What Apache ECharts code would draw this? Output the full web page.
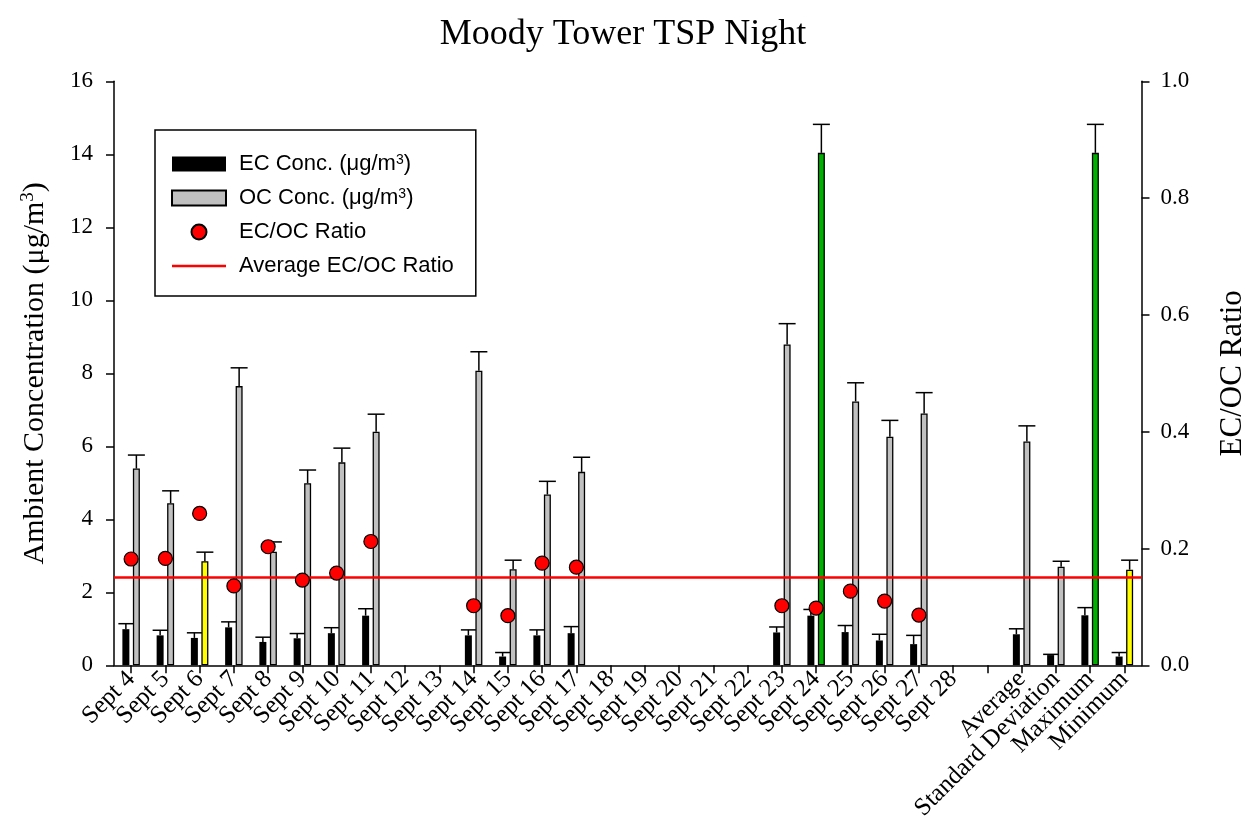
<!DOCTYPE html>
<html>
<head>
<meta charset="utf-8">
<script src="https://cdn.jsdelivr.net/npm/echarts@6/dist/echarts.min.js"></script>
<style>
html,body{margin:0;padding:0;background:#fff;}
#chart{width:1246px;height:832px;}
</style>
</head>
<body>
<div id="chart"></div>
<script>
// ---- data ----
const categories = ['Sept 4','Sept 5','Sept 6','Sept 7','Sept 8','Sept 9','Sept 10','Sept 11','Sept 12','Sept 13',
  'Sept 14','Sept 15','Sept 16','Sept 17','Sept 18','Sept 19','Sept 20','Sept 21','Sept 22','Sept 23',
  'Sept 24','Sept 25','Sept 26','Sept 27','Sept 28','','Average','Standard Deviation','Maximum','Minimum'];
const ecConc = [0.99,0.82,0.75,1.04,0.64,0.74,0.88,1.36,null,null,
  0.82,0.24,0.82,0.88,null,null,null,null,null,0.90,
  1.36,0.91,0.68,0.58,null,null,0.85,0.28,1.37,0.24];
const ecErr = [0.15,0.14,0.14,0.15,0.13,0.13,0.15,0.19,null,null,
  0.15,0.11,0.15,0.18,null,null,null,null,null,0.15,
  0.17,0.18,0.17,0.24,null,null,0.15,0.02,0.21,0.11];
const ocConc = [5.39,4.44,2.85,7.65,3.11,4.99,5.56,6.40,null,null,
  8.07,2.63,4.68,5.30,null,null,null,null,null,8.79,
  14.04,7.23,6.26,6.90,null,null,6.13,2.70,14.04,2.62];
const ocErr = [0.37,0.34,0.25,0.50,0.27,0.36,0.39,0.48,null,null,
  0.52,0.25,0.36,0.40,null,null,null,null,null,0.57,
  0.78,0.51,0.45,0.57,null,null,0.43,0.15,0.78,0.26];
const ecocRatio = [0.182,0.183,0.260,0.136,0.203,0.146,0.158,0.212,null,null,
  0.102,0.085,0.175,0.168,null,null,null,null,null,0.102,
  0.098,0.127,0.110,0.086,null,null,null,null,null,null];
const avgRatio = 0.147;

// ---- styles ----
const highlight = {'Sept 6':'#ffff00','Minimum':'#ffff00','Sept 24':'#00b000','Maximum':'#00b000'};
const BAR_W = 7, BAR_GAP = 0.5;
const BAR_OFF = BAR_W * (1 + BAR_GAP) / 2;
const SERIF = 'Liberation Serif';
const SANS = 'Liberation Sans';

const legendLabels = {
  'EC': 'EC Conc. (\u03bcg/m{sup|3})',
  'OC': 'OC Conc. (\u03bcg/m{sup|3})',
  'Ratio': 'EC/OC Ratio',
  'Avg': 'Average EC/OC Ratio'
};

function errData(vals, errs){
  return vals.map((v,i)=> v==null ? [i, null, null] : [i, v, errs[i]]);
}
function errRender(dir, capW){
  return function(params, api){
    const v = api.value(1);
    if (v == null || isNaN(v)) return;
    const e = api.value(2);
    const idx = api.value(0);
    const p0 = api.coord([idx, v]);
    const p1 = api.coord([idx, v + e]);
    const x = p0[0] + dir * BAR_OFF;
    return {
      type:'group',
      children:[
        {type:'line', shape:{x1:x,y1:p0[1],x2:x,y2:p1[1]}, style:{stroke:'#000',lineWidth:1.5}},
        {type:'line', shape:{x1:x-capW/2,y1:p1[1],x2:x+capW/2,y2:p1[1]}, style:{stroke:'#000',lineWidth:1.5}}
      ]
    };
  };
}

const chart = echarts.init(document.getElementById('chart'), null, {renderer:'canvas'});
const axisLine = {show:true, lineStyle:{color:'#000', width:1.5}};
const axisTick = {show:true, inside:false, length:8, lineStyle:{color:'#000', width:1.5}};

chart.setOption({
  animation:false,
  backgroundColor:'#fff',
  title:{
    text:'Moody Tower TSP Night',
    left:'center', top:12,
    textStyle:{fontFamily:SERIF, fontSize:36, fontWeight:'normal', color:'#000'}
  },
  legend:{
    orient:'vertical',
    left:155, top:130,
    padding:[23,22,19,16],
    itemGap:12,
    itemWidth:54, itemHeight:15,
    borderColor:'#000', borderWidth:1.5,
    backgroundColor:'#fff',
    data:[
      {name:'EC', icon:'rect'},
      {name:'OC', icon:'rect'},
      {name:'Ratio', icon:'circle'},
      {name:'Avg', icon:'path://M0,0H54V2.5H0Z', itemStyle:{color:'#ff0000'}}
    ],
    formatter:function(n){ return legendLabels[n]; },
    textStyle:{fontFamily:SANS, fontSize:22, color:'#000', padding:[0,0,0,8],
      rich:{sup:{fontFamily:SANS, fontSize:14, verticalAlign:'top', padding:[0,0,8,0]}}}
  },
  grid:{left:114, right:104.5, top:81.3, bottom:166.7, containLabel:false, outerBoundsMode:'none'},
  xAxis:{
    type:'category',
    data:categories,
    axisLine:axisLine,
    axisTick:Object.assign({alignWithLabel:true, interval:0}, axisTick),
    axisLabel:{interval:0, rotate:45, margin:10, fontFamily:SERIF, fontSize:25, color:'#000'},
    splitLine:{show:false}
  },
  yAxis:[{
    type:'value', min:0, max:16, interval:2, position:'left',
    name:'Ambient Concentration (\u03bcg/m{sup|3})',
    nameLocation:'middle', nameRotate:90, nameGap:62,
    nameTextStyle:{fontFamily:SERIF, fontSize:30, color:'#000',
      rich:{sup:{fontFamily:SERIF, fontSize:19, verticalAlign:'top', padding:[0,0,14,0]}}},
    axisLine:axisLine, axisTick:axisTick,
    axisLabel:{margin:21, fontFamily:SERIF, fontSize:23, color:'#000'},
    splitLine:{show:false}
  },{
    type:'value', min:0, max:1, interval:0.2, position:'right',
    name:'EC/OC Ratio',
    nameLocation:'middle', nameRotate:90, nameGap:76,
    nameTextStyle:{fontFamily:SERIF, fontSize:31, color:'#000'},
    axisLine:axisLine, axisTick:axisTick,
    axisLabel:{margin:19, fontFamily:SERIF, fontSize:23, color:'#000', formatter:v=>v.toFixed(1)},
    splitLine:{show:false}
  }],
  series:[
    {
      name:'EC', type:'bar', barWidth:BAR_W, barGap:(BAR_GAP*100)+'%',
      data:ecConc,
      itemStyle:{color:'#000'}, z:2
    },
    {
      name:'OC', type:'bar', barWidth:BAR_W,
      data:ocConc.map((v,i)=> highlight[categories[i]] && v!=null ? {value:v, itemStyle:{color:highlight[categories[i]]}} : v),
      itemStyle:{color:'#c0c0c0', borderColor:'#000', borderWidth:1.3}, z:2
    },
    {
      name:'EC err', type:'custom', renderItem:errRender(-1, 15),
      data:errData(ecConc, ecErr), encode:{x:0, y:1}, z:3, silent:true
    },
    {
      name:'OC err', type:'custom', renderItem:errRender(1, 17),
      data:errData(ocConc, ocErr), encode:{x:0, y:1}, z:3, silent:true
    },
    {
      name:'Avg', type:'line', yAxisIndex:1, data:[], symbol:'none',
      lineStyle:{color:'#ff0000', width:2.5}, itemStyle:{color:'#ff0000'},
      markLine:{silent:true, symbol:['none','none'], label:{show:false},
        lineStyle:{color:'#ff0000', width:2.5, type:'solid'},
        data:[{yAxis:avgRatio}]}, z:4
    },
    {
      name:'Ratio', type:'scatter', yAxisIndex:1,
      data:ecocRatio.map((v,i)=>[i, v]),
      symbol:'circle', symbolSize:14,
      itemStyle:{color:'#ff0000', borderColor:'#000', borderWidth:1.2, opacity:1}, z:5
    }
  ]
});
</script>
</body>
</html>
